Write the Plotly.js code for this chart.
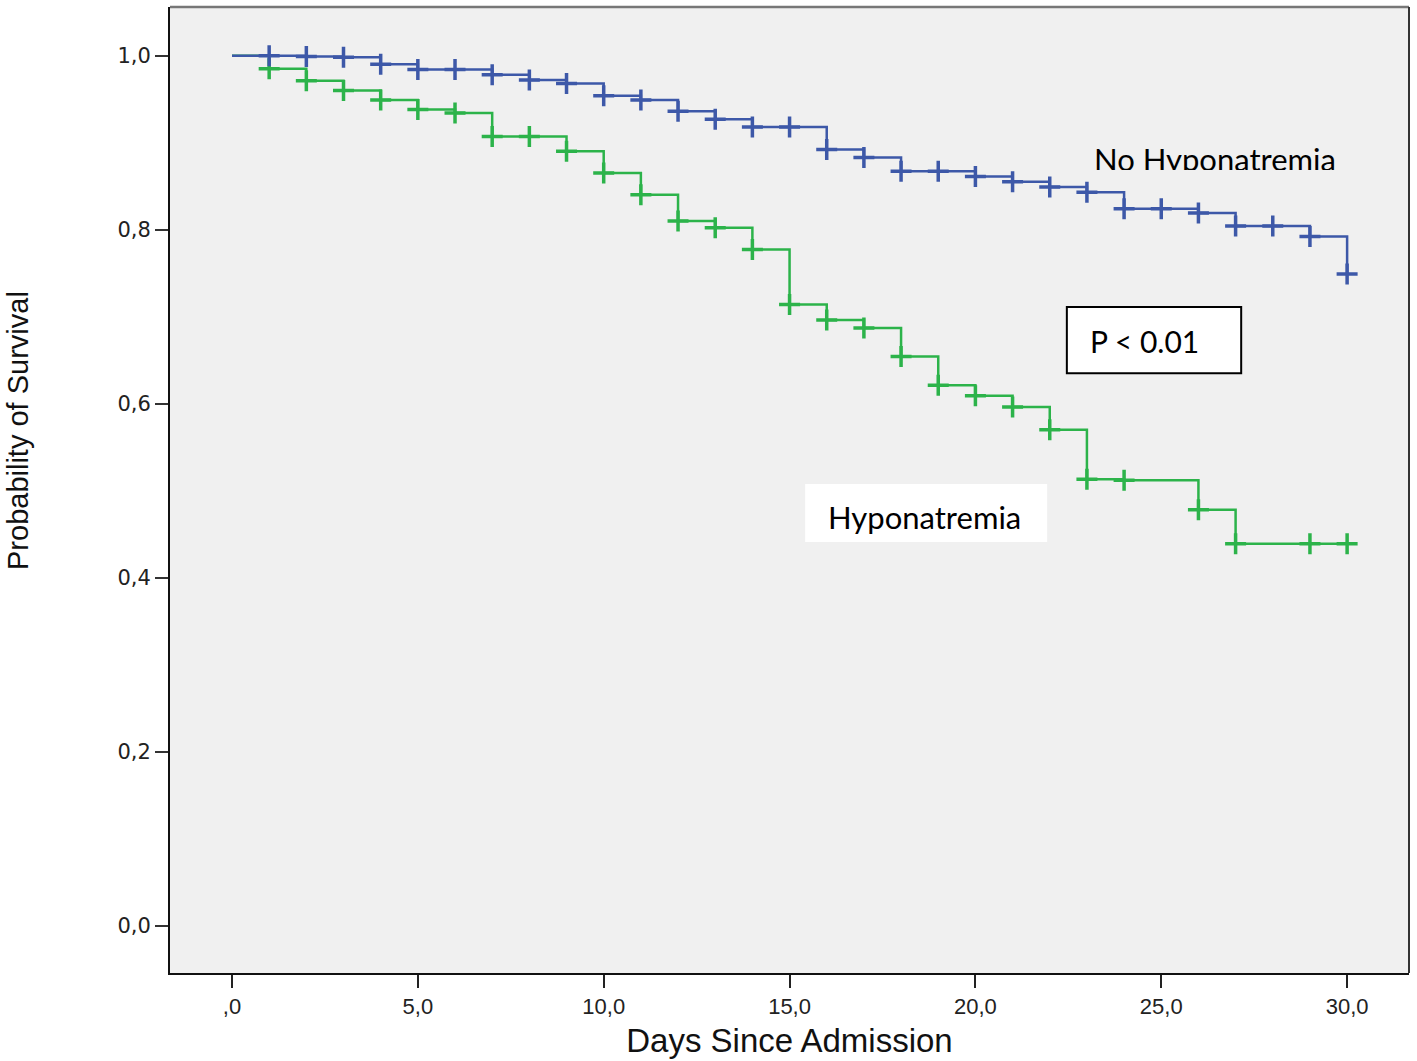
<!DOCTYPE html>
<html>
<head>
<meta charset="utf-8">
<script src="https://cdn.plot.ly/plotly-3.0.1.min.js"></script>
<style>html,body{margin:0;padding:0;background:#fff;}#chart{width:1417px;height:1061px;}</style>
</head>
<body>
<div id="chart"></div>
<script>
// ---- data ----
const days = [0,1,2,3,4,5,6,7,8,9,10,11,12,13,14,15,16,17,18,19,20,21,22,23,24,25,26,27,28,29,30];
const survNoHypo = [1.000,1.000,0.999,0.998,0.990,0.984,0.984,0.978,0.972,0.968,0.954,0.949,0.936,0.927,0.918,0.918,0.892,0.883,0.867,0.867,0.861,0.855,0.849,0.843,0.824,0.824,0.819,0.804,0.804,0.792,0.749];
const survHypo   = [1.000,0.985,0.971,0.960,0.949,0.938,0.934,0.907,0.907,0.890,0.865,0.840,0.810,0.802,0.777,0.714,0.696,0.687,0.654,0.621,0.609,0.596,0.570,0.513,0.512,0.512,0.478,0.439,0.439,0.439,0.439];
const censorNoHypo = [1,2,3,4,5,6,7,8,9,10,11,12,13,14,15,16,17,18,19,20,21,22,23,24,25,26,27,28,29,30];
const censorHypo   = [1,2,3,4,5,6,7,8,9,10,11,12,13,14,15,16,17,18,19,20,21,22,23,24,26,27,29,30];
const xTickVals = [0,5,10,15,20,25,30];
const xTickText = [",0","5,0","10,0","15,0","20,0","25,0","30,0"];
const yTickVals = [0,0.2,0.4,0.6,0.8,1.0];
const yTickText = ["0,0","0,2","0,4","0,6","0,8","1,0"];

const blue = '#3d58a8';
const green = '#2cb34a';

function at(series, d){ return series[days.indexOf(d)]; }

const traces = [
  {x: days, y: survHypo, type:'scatter', mode:'lines', line:{shape:'hv', color:green, width:2.5}, hoverinfo:'skip', showlegend:false},
  {x: days, y: survNoHypo, type:'scatter', mode:'lines', line:{shape:'hv', color:blue, width:2.5}, hoverinfo:'skip', showlegend:false},
  {x: censorHypo, y: censorHypo.map(d=>at(survHypo,d)), type:'scatter', mode:'markers',
   marker:{symbol:'cross-thin', size:15, line:{color:green, width:3.5}}, hoverinfo:'skip', showlegend:false},
  {x: censorNoHypo, y: censorNoHypo.map(d=>at(survNoHypo,d)), type:'scatter', mode:'markers',
   marker:{symbol:'cross-thin', size:15, line:{color:blue, width:3.5}}, hoverinfo:'skip', showlegend:false}
];

const annFont = 'Lato, Carlito, "Open Sans", sans-serif';

const layout = {
  width:1417, height:1061,
  margin:{l:170, r:8, t:7, b:88, pad:0},
  paper_bgcolor:'#ffffff', plot_bgcolor:'#f0f0f0',
  showlegend:false,
  xaxis:{range:[-1.668,31.665], tickvals:xTickVals, ticktext:xTickText, showgrid:false, zeroline:false,
         showline:true, linecolor:'#111', linewidth:2, ticks:'outside', ticklen:13, tickwidth:2, tickcolor:'#222',
         tickfont:{family:'"Liberation Sans", Arial, sans-serif', size:22, color:'#222'},
         title:{text:'Days Since Admission', font:{family:'"Liberation Sans", Arial, sans-serif', size:33, color:'#111'}, standoff:10}},
  yaxis:{range:[-0.0546,1.0559], tickvals:yTickVals, ticktext:yTickText, showgrid:false, zeroline:false,
         showline:true, linecolor:'#111', linewidth:2, ticks:'outside', ticklen:13, tickwidth:2, tickcolor:'#333',
         tickfont:{family:'"DejaVu Sans", sans-serif', size:21, color:'#222'}},
  shapes:[
    {type:'line', xref:'paper', yref:'paper', x0:0, x1:1, y0:1, y1:1, line:{color:'#777', width:2.5}},
    {type:'line', xref:'paper', yref:'paper', x0:1, x1:1, y0:0, y1:1, line:{color:'#333', width:2}},
    {type:'rect', xref:'x', yref:'y', x0:22.46, x1:27.15, y0:0.635, y1:0.711, fillcolor:'#ffffff', line:{color:'#000', width:2}, layer:'above'},
    {type:'rect', xref:'x', yref:'y', x0:15.42, x1:21.93, y0:0.4409, y1:0.5075, fillcolor:'#ffffff', line:{width:0}, layer:'above'}
  ],
  annotations:[
    {text:'Probability of Survival', xref:'paper', yref:'paper', x:-0.1227, y:0.5621, textangle:-90, showarrow:false,
     xanchor:'center', yanchor:'middle', font:{family:'"Liberation Sans", Arial, sans-serif', size:29, color:'#111'}},
    {text:'P < 0.01', xref:'x', yref:'y', x:24.56, y:0.672, showarrow:false, xanchor:'center', yanchor:'middle',
     font:{family:annFont, size:30, color:'#000'}},
    {text:'Hyponatremia', xref:'x', yref:'y', x:18.64, y:0.4696, showarrow:false, xanchor:'center', yanchor:'middle',
     font:{family:annFont, size:31, color:'#000'}},
    {text:'No Hyponatremia', xref:'x', yref:'y', x:26.45, y:0.9053, showarrow:false, xanchor:'center', yanchor:'top',
     height:30, valign:'top', font:{family:annFont, size:31, color:'#000'}}
  ]
};

Plotly.newPlot('chart', traces, layout, {staticPlot:true, displayModeBar:false});
</script>
</body>
</html>
